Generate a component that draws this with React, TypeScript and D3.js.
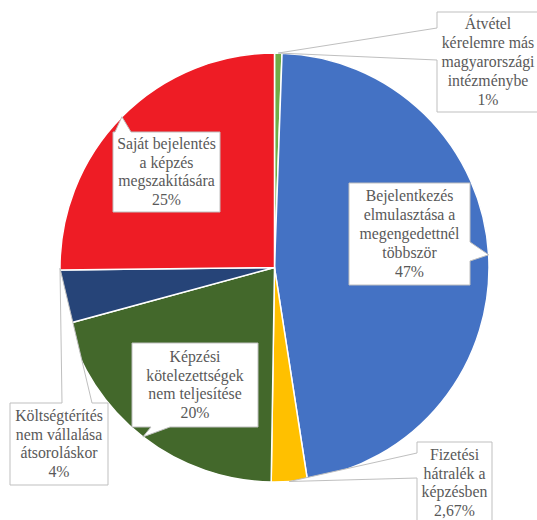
import React from "react";
import * as d3 from "d3";

// ---- data ----
const categories = [
  "Átvétel kérelemre más magyarországi intézménybe",
  "Bejelentkezés elmulasztása a megengedettnél többször",
  "Fizetési hátralék a képzésben",
  "Képzési kötelezettségek nem teljesítése",
  "Költségtérítés nem vállalása átsoroláskor",
  "Saját bejelentés a képzés megszakítására",
];
const values = [0.56, 46.99, 2.69, 20.53, 4.03, 25.19];
const labelLines = [
  ["Átvétel", "kérelemre más", "magyarországi", "intézménybe", "1%"],
  ["Bejelentkezés", "elmulasztása a", "megengedettnél", "többször", "47%"],
  ["Fizetési", "hátralék a", "képzésben", "2,67%"],
  ["Képzési", "kötelezettségek", "nem teljesítése", "20%"],
  ["Költségtérítés", "nem vállalása", "átsoroláskor", "4%"],
  ["Saját bejelentés", "a képzés", "megszakítására", "25%"],
];

// ---- styles / layout ----
const colors = ["#70AD47", "#4472C4", "#FFC000", "#43682B", "#264478", "#EE1C25"];
const W = 537;
const H = 520;
const CX = 274.5;
const CY = 267.5;
const R = 214.5;
const FONT = "Liberation Serif, DejaVu Serif, Times New Roman, serif";
const FS = 15.8;
const LH = 18.8;

type Callout = {
  x: number; y: number; w: number; h: number;
  side: "left" | "right" | "top" | "bottom";
  b1: number; b2: number;
  tipAngle?: number;
};
const callouts: Callout[] = [
  { x: 437, y: 12, w: 102, h: 100, side: "left", b1: 28, b2: 60 },
  { x: 349, y: 183, w: 121, h: 102, side: "right", b1: 242, b2: 261 },
  { x: 417, y: 442, w: 75, h: 82, side: "left", b1: 453, b2: 478 },
  { x: 132, y: 343, w: 126, h: 84, side: "bottom", b1: 151, b2: 170 },
  { x: 10, y: 403, w: 98, h: 82, side: "top", b1: 62, b2: 92, tipAngle: 269.8 },
  { x: 113, y: 132, w: 107, h: 80, side: "top", b1: 115, b2: 131 },
];

function calloutPath(c: Callout, tx: number, ty: number): string {
  const { x, y, w, h, side, b1, b2 } = c;
  const x2 = x + w, y2 = y + h;
  const p: [number, number][] = [];
  p.push([x, y]);
  if (side === "top") { p.push([b1, y], [tx, ty], [b2, y]); }
  p.push([x2, y]);
  if (side === "right") { p.push([x2, b1], [tx, ty], [x2, b2]); }
  p.push([x2, y2]);
  if (side === "bottom") { p.push([b2, y2], [tx, ty], [b1, y2]); }
  p.push([x, y2]);
  if (side === "left") { p.push([x, b2], [tx, ty], [x, b1]); }
  return "M" + p.map((q) => q.join(",")).join("L") + "Z";
}

export default function App() {
  const pie = d3
    .pie<number>()
    .sort(null)
    .value((d) => d)
    .startAngle(0)
    .endAngle(2 * Math.PI);
  const arcs = pie(values);
  const arc = d3.arc<d3.PieArcDatum<number>>().innerRadius(0).outerRadius(R);

  return (
    <svg
      width={W}
      height={H}
      style={{ position: "absolute", left: 0, top: 0, background: "#fff" }}
    >
      <g transform={`translate(${CX},${CY})`}>
        {arcs.map((a, i) => (
          <path
            key={categories[i]}
            d={arc(a) || ""}
            fill={colors[i]}
            stroke="#fff"
            strokeWidth={1.5}
          />
        ))}
      </g>
      {arcs.map((a, i) => {
        const c = callouts[i];
        const ang = c.tipAngle !== undefined ? (c.tipAngle * Math.PI) / 180 : (a.startAngle + a.endAngle) / 2;
        const tx = CX + R * Math.sin(ang);
        const ty = CY - R * Math.cos(ang);
        const lines = labelLines[i];
        const midY = c.y + c.h / 2 + 5;
        const first = midY - ((lines.length - 1) * LH) / 2;
        return (
          <g key={"c" + i}>
            <path d={calloutPath(c, tx, ty)} fill="#fff" stroke="#BFBFBF" strokeWidth={1} />
            <text fill="#595959" textAnchor="middle" style={{ fontFamily: FONT, fontSize: FS }}>
              {lines.map((l, j) => (
                <tspan key={j} x={c.x + c.w / 2} y={first + j * LH}>
                  {l}
                </tspan>
              ))}
            </text>
          </g>
        );
      })}
    </svg>
  );
}
